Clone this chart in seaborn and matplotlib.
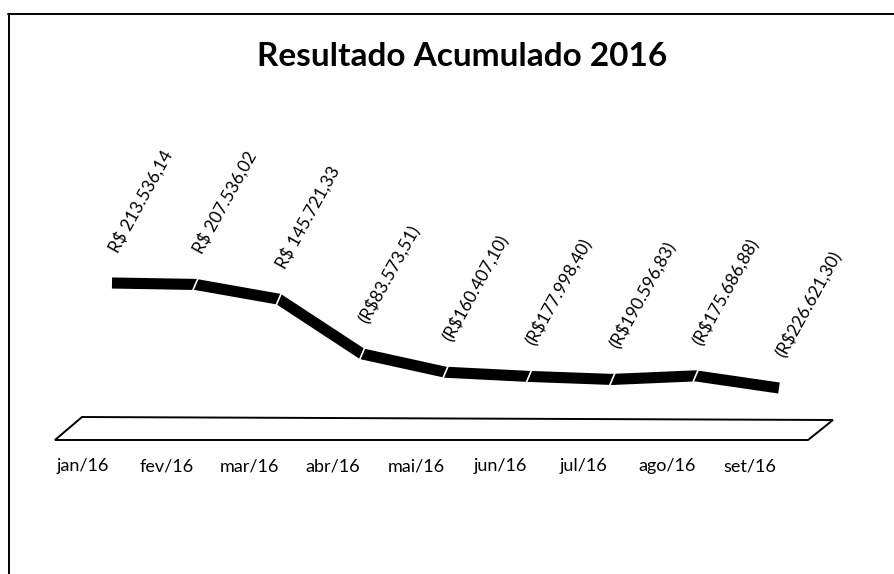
import numpy as np
import pandas as pd
import matplotlib
matplotlib.use("Agg")
import matplotlib.pyplot as plt
import matplotlib.transforms as mtransforms
from matplotlib.patches import Polygon
from matplotlib.lines import Line2D
import seaborn as sns

months = ["jan/16", "fev/16", "mar/16", "abr/16", "mai/16",
          "jun/16", "jul/16", "ago/16", "set/16"]
resultado = [213536.14, 207536.02, 145721.33, -83573.51, -160407.10,
             -177998.40, -190596.83, -175686.88, -226621.30]


def brl(v):
    s = f"{abs(v):,.2f}".replace(",", "X").replace(".", ",").replace("X", ".")
    return f"R$ {s}" if v >= 0 else f"(R${s})"


sns.set_theme(style="white")
plt.rcParams["font.family"] = ["Lato", "DejaVu Sans"]
plt.rcParams["text.color"] = "black"
plt.rcParams["xtick.color"] = "black"

W, H, DPI = 894, 574, 100
fig = plt.figure(figsize=(W / DPI, H / DPI), dpi=DPI)
fig.patch.set_facecolor("white")

# plot area: 50..840 px horizontally, 100..440 px from the top
ax = fig.add_axes([50 / W, 134 / H, 790 / W, 340 / H])
ax.set_facecolor("none")

df = pd.DataFrame({"mes": np.arange(len(months)), "valor": resultado})
sns.lineplot(data=df, x="mes", y="valor", ax=ax, color="black", lw=8,
             solid_capstyle="butt", solid_joinstyle="miter")

# the ribbon sits behind the category labels (depth shift to the right)
depth_px = 29
depth = mtransforms.ScaledTranslation(depth_px / DPI, 0, fig.dpi_scale_trans)
ribbon = ax.lines[0]
ribbon.set_transform(ax.transData + depth)

ax.set_xlim(-0.3958, 9.0795)
ax.set_ylim(-444469, 980510)

ax.set_xticks(range(len(months)))
ax.set_xticklabels(months, fontsize=13, color="black")
ax.tick_params(axis="x", length=0, pad=13)
ax.set_yticks([])
ax.set_xlabel("")
ax.set_ylabel("")
for sp in ax.spines.values():
    sp.set_visible(False)

# thin joints between ribbon segments
fig.canvas.draw()
for i in range(1, len(months) - 1):
    px, py = ax.transData.transform((i, resultado[i]))
    px += depth_px
    ax.add_line(Line2D([px - 3, px + 3], [py - 7, py + 7], color="white",
                       lw=1.2, transform=mtransforms.IdentityTransform()))

# value labels
for i, v in enumerate(resultado):
    ax.annotate(brl(v), xy=(i, v), xytext=(depth_px + 9, 28),
                textcoords="offset pixels", rotation=61,
                rotation_mode="anchor", ha="left", va="bottom",
                fontsize=12.5, color="black")

# floor of the chart
floor = Polygon([(0.0063, 0.0), (0.9595, 0.0), (0.9911, 0.0588), (0.0405, 0.0676)],
                closed=True, fill=False, edgecolor="black", lw=1.4,
                transform=ax.transAxes, clip_on=False)
ax.add_patch(floor)

fig.text(462 / W, 1 - 56 / H, "Resultado Acumulado 2016", ha="center",
         va="center", fontsize=24, fontweight="bold", color="black")

# chart border (top and left edges)
fig.add_artist(Line2D([8 / W, 1], [1 - 14 / H, 1 - 14 / H], color="black", lw=1.4))
fig.add_artist(Line2D([9 / W, 9 / W], [0, 1 - 14 / H], color="black", lw=1.4))

fig.savefig("out.png", dpi=DPI)
